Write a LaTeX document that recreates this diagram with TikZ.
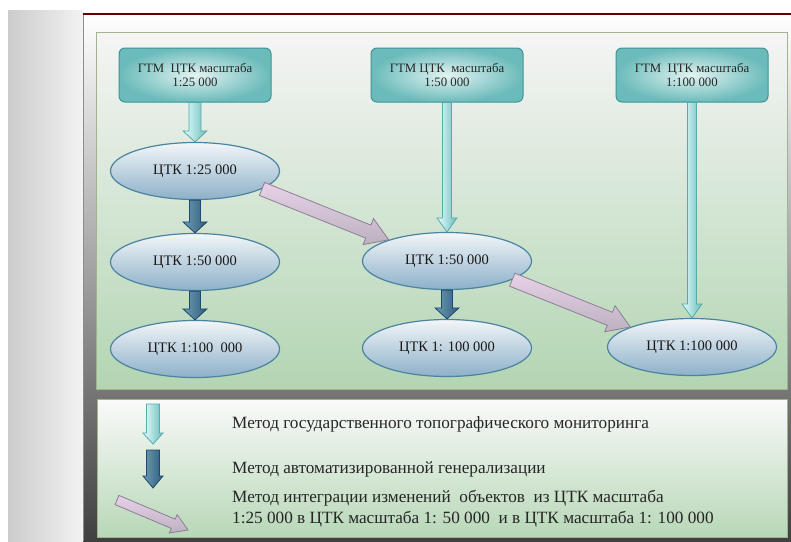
\documentclass[tikz,border=0pt]{standalone}
\usepackage{fontspec}
\setmainfont{Liberation Serif}
\usepackage{tikz}
\usetikzlibrary{calc}
\usetikzlibrary{shapes.geometric}
\usepackage{xcolor}

\definecolor{gtmline}{HTML}{3E9497}
\definecolor{gtmin}{HTML}{E2F3F1}
\definecolor{gtmout}{HTML}{6BBBBB}
\definecolor{ctkline}{HTML}{4A84A0}
\definecolor{ctktop}{HTML}{F2F6F8}
\definecolor{ctkbot}{HTML}{8DB0C9}
\definecolor{monline}{HTML}{55AAAC}
\definecolor{genline}{HTML}{1A4A6E}
\definecolor{intline}{HTML}{8E7E96}
\definecolor{panline}{HTML}{A3B28C}

% block arrow: style, from, to, half shaft, half head, head length
\newcommand{\blockarrow}[6]{%
  \coordinate (ba-h) at ($#3!#6!#2$);
  \path[#1] ($#2!#4!90:#3$) -- ($(ba-h)!#4!90:#3$) -- ($(ba-h)!#5!90:#3$) -- #3
    -- ($(ba-h)!#5!-90:#3$) -- ($(ba-h)!#4!-90:#3$) -- ($#2!#4!-90:#3$) -- cycle;
}

\begin{document}
\begin{tikzpicture}[x=1pt,y=-1pt]
    \tikzstyle{gtm}=[draw=gtmline,line width=1pt,rounded corners=6pt,shading=radial,inner color=gtmin,outer color=gtmout,minimum width=152pt,minimum height=54pt,align=center,text=black!85,font=\fontsize{12.8}{14.5}\selectfont]
    \tikzstyle{ctk}=[draw=ctkline,line width=1.2pt,ellipse,top color=ctktop,bottom color=ctkbot,minimum width=169pt,minimum height=57pt,inner sep=0,text=black!90,font=\fontsize{14.5}{16}\selectfont]
    \tikzstyle{mon}=[draw=monline,line width=0.8pt,left color=white!90!cyan,right color=gtmout]
    \tikzstyle{gen}=[draw=genline,line width=0.8pt,left color=ctkline!80!white,right color=genline!90!white]
    \tikzstyle{integ}=[draw=intline,line width=0.8pt,top color=white!82!violet,bottom color=intline!60!white]
    \tikzstyle{legend}=[anchor=west,align=left,inner sep=0,text=black!85,font=\fontsize{17.2}{21}\selectfont]
    \useasboundingbox (0,0) rectangle (791,541);
    \fill[white] (0,0) rectangle (791,541);
    \shade[left color=black!20,right color=black!5] (8,10) rectangle (83,541);
    \shade[top color=white,bottom color=black!75] (83,14) rectangle (791,541);
    \draw[black!45] (83,14) -- (83,541);
    \draw[line width=1.5pt,color=red!40!black] (83,14) -- (791,14);
    \shade[top color=black!4!white,bottom color=green!45!black!30!white] (96,32) rectangle (787,389);
    \draw[panline] (96,32) rectangle (787,389);
    \shade[top color=black!2!white,bottom color=green!45!black!28!white] (97,399) rectangle (787,537);
    \draw[panline] (97,399) rectangle (787,537);
    \node[gtm] (g25) at (195,75) {ГТМ\ \ ЦТК масштаба\\1:25 000};
    \node[gtm] (g50) at (447,75) {ГТМ ЦТК\ \ масштаба\\1:50 000};
    \node[gtm] (g100) at (692,75) {ГТМ\ \ ЦТК масштаба\\1:100 000};
    \node[ctk] (a25) at (195,171) {ЦТК 1:25 000};
    \node[ctk] (a50) at (195,262) {ЦТК 1:50 000};
    \node[ctk] (a100) at (195,349) {ЦТК 1:100\ \ 000};
    \node[ctk] (b50) at (447,261) {ЦТК 1:50 000};
    \node[ctk] (b100) at (447,348) {ЦТК 1: 100 000};
    \node[ctk] (c100) at (692,347) {ЦТК 1:100 000};
    \blockarrow{mon}{(g25.south)}{(a25.north)}{6pt}{12pt}{11pt}
    \blockarrow{mon}{(g50.south)}{(b50.north)}{4.5pt}{10pt}{14pt}
    \blockarrow{mon}{(g100.south)}{(c100.north)}{4.5pt}{10pt}{14pt}
    \blockarrow{gen}{(a25.south)}{(a50.north)}{5.5pt}{12pt}{11pt}
    \blockarrow{gen}{(a50.south)}{(a100.north)}{5.5pt}{12pt}{11pt}
    \blockarrow{gen}{(b50.south)}{(b100.north)}{5.5pt}{12pt}{11pt}
    \blockarrow{integ}{(a25.-15)}{(b50.160)}{7pt}{14pt}{22pt}
    \blockarrow{integ}{(b50.-16)}{(c100.162)}{7pt}{14pt}{22pt}
    \coordinate (m1) at (153,404);
    \coordinate (m2) at (153,444);
    \coordinate (n1) at (153,450);
    \coordinate (n2) at (153,488);
    \coordinate (k1) at (117,500);
    \coordinate (k2) at (188,530);
    \blockarrow{mon}{(m1)}{(m2)}{6.5pt}{10pt}{11pt}
    \blockarrow{gen}{(n1)}{(n2)}{6.5pt}{10pt}{12pt}
    \blockarrow{integ}{(k1)}{(k2)}{5pt}{10pt}{16pt}
    \node[legend] (t1) at (232,424) {Метод государственного топографического мониторинга};
    \node[legend] (t2) at (232,469) {Метод автоматизированной генерализации};
    \node[legend] (t3) at (232,509) {Метод интеграции изменений\ \ объектов\ \ из ЦТК масштаба\\1:25 000 в ЦТК масштаба 1: 50 000\ \ и в ЦТК масштаба 1: 100 000};
\end{tikzpicture}
\end{document}
